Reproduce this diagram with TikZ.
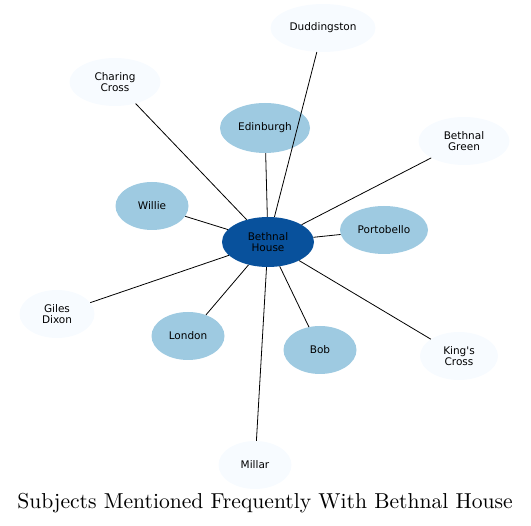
\documentclass[tikz,border=0pt]{standalone}
\usepackage{fontspec}
\usetikzlibrary{shapes.geometric}
\newfontfamily\nodefont{DejaVu Sans}
\newfontfamily\titlefont{lmroman10-regular.otf}
\definecolor{hub}{HTML}{08519C}
\definecolor{mid}{HTML}{9ECAE1}
\definecolor{pale}{HTML}{F7FBFF}
\begin{document}
\begin{tikzpicture}[x=1pt,y=-1pt,
  base/.style={ellipse, inner sep=0pt, minimum height=48pt, font=\nodefont\fontsize{10.5}{11.5}\selectfont, align=center, text=black},
  hubnode/.style={base, fill=hub, minimum width=92pt, minimum height=50pt},
  midnode/.style={base, fill=mid},
  palenode/.style={base, fill=pale},
  edge/.style={draw=black, line width=0.8pt}]
\useasboundingbox (0,0) rectangle (531,526);
\node[hubnode] (bh) at (268,242) {Bethnal\\House};
\node[midnode, minimum width=90pt, minimum height=50pt] (edi) at (265,128) {Edinburgh};
\node[midnode, minimum width=73pt] (wil) at (152,206) {Willie};
\node[midnode, minimum width=88pt] (por) at (384,230) {Portobello};
\node[midnode, minimum width=73pt] (lon) at (188,336) {London};
\node[midnode, minimum width=73pt] (bob) at (320,350) {Bob};
\node[palenode, minimum width=105pt] (dud) at (323,28) {Duddingston};
\node[palenode, minimum width=91pt] (cha) at (115,82) {Charing\\Cross};
\node[palenode, minimum width=91pt] (bgr) at (464,141) {Bethnal\\Green};
\node[palenode, minimum width=75pt] (gil) at (57,314) {Giles\\Dixon};
\node[palenode, minimum width=78pt] (kin) at (459,356) {King's\\Cross};
\node[palenode, minimum width=73pt] (mil) at (255,465) {Millar};
\foreach \t in {edi,wil,por,lon,bob,dud,cha,bgr,gil,kin,mil}
  \draw[edge] (bh) -- (\t);
\node[font=\titlefont\fontsize{21.6}{24}\selectfont] (title) at (265,503) {Subjects Mentioned Frequently With Bethnal House};
\end{tikzpicture}
\end{document}
